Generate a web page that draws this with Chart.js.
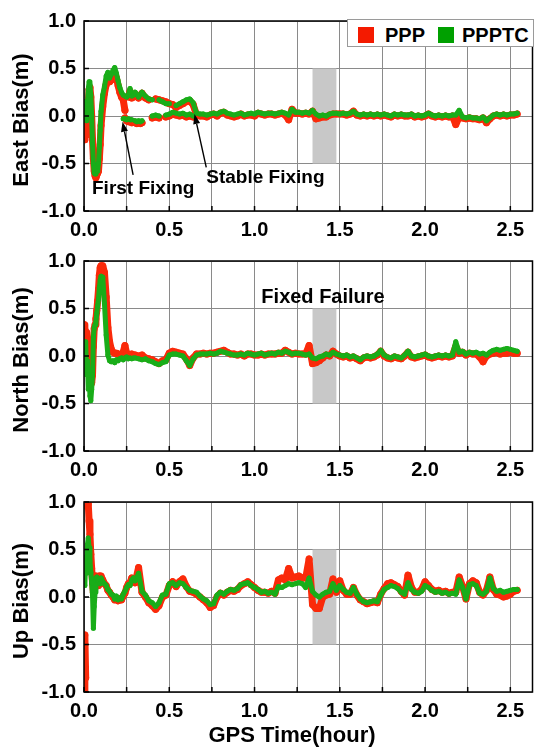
<!DOCTYPE html>
<html>
<head>
<meta charset="utf-8">
<script src="https://cdn.jsdelivr.net/npm/chart.js@4.4.1/dist/chart.umd.min.js"></script>
<style>
  html, body { margin: 0; padding: 0; background: #fff; }
  #wrap { position: relative; width: 536px; height: 748px; font-family: "Liberation Sans", Arial, sans-serif; font-weight: bold; color: #000; }
  #wrap canvas { position: absolute; left: 0; }
  #legend { position: absolute; left: 347px; top: 19px; width: 185px; height: 26px; border: 1.5px solid #9a9a9a; background: #fff; z-index: 2; }
  #legend .sw { position: absolute; top: 7px; width: 16px; height: 16px; }
  #legend .lb { position: absolute; top: 5px; font-size: 20px; line-height: 20px; }
  #xtitle { position: absolute; left: 0; width: 584px; top: 724px; text-align: center; font-size: 22px; line-height: 22px; }
</style>
</head>
<body>
<div id="wrap">
  <canvas id="east" width="536" height="240" style="top:0px"></canvas>
  <canvas id="north" width="536" height="240" style="top:240px"></canvas>
  <canvas id="up" width="536" height="268" style="top:480px"></canvas>
  <div id="legend">
    <span class="sw" style="left:10px;background:#f41a00"></span><span class="lb" style="left:37px">PPP</span>
    <span class="sw" style="left:90px;background:#00a000"></span><span class="lb" style="left:114px">PPPTC</span>
  </div>
  <div id="xtitle">GPS Time(hour)</div>
</div>
<script>
// sample times (hour), shared by all main traces
const hours = [
  0, 0.005, 0.01, 0.015, 0.02, 0.025, 0.03, 0.035, 0.04, 0.045,
  0.05, 0.055, 0.06, 0.065, 0.07, 0.075, 0.08, 0.085, 0.09, 0.095,
  0.10, 0.11, 0.12, 0.13, 0.14, 0.15, 0.16, 0.17, 0.18, 0.19,
  0.20, 0.21, 0.22, 0.23, 0.24, 0.25, 0.26, 0.27, 0.28, 0.29,
  0.30, 0.32, 0.34, 0.36, 0.38, 0.40, 0.42, 0.44, 0.46, 0.48,
  0.50, 0.52, 0.54, 0.56, 0.58, 0.60, 0.62, 0.64, 0.66, 0.68,
  0.70, 0.72, 0.74, 0.76, 0.78, 0.80, 0.82, 0.84, 0.86, 0.88,
  0.90, 0.92, 0.94, 0.96, 0.98, 1.00, 1.02, 1.04, 1.06, 1.08,
  1.10, 1.12, 1.14, 1.16, 1.18, 1.20, 1.22, 1.24, 1.26, 1.28,
  1.30, 1.32, 1.34, 1.36, 1.38, 1.40, 1.42, 1.44, 1.46, 1.48,
  1.50, 1.52, 1.54, 1.56, 1.58, 1.60, 1.62, 1.64, 1.66, 1.68,
  1.70, 1.72, 1.74, 1.76, 1.78, 1.80, 1.82, 1.84, 1.86, 1.88,
  1.90, 1.92, 1.94, 1.96, 1.98, 2.00, 2.02, 2.04, 2.06, 2.08,
  2.10, 2.12, 2.14, 2.16, 2.18, 2.20, 2.22, 2.24, 2.26, 2.28,
  2.30, 2.32, 2.34, 2.36, 2.38, 2.40, 2.42, 2.44, 2.46, 2.48,
  2.50, 2.52, 2.54
];

// East (m); between 0.23 and 0.66 this is the float branch
const eastPPP = [
  -0.2, -0.25, -0.12, -0.2, -0.05, 0.15, 0.28, 0.30, 0.20, 0.0,
  -0.25, -0.45, -0.58, -0.63, -0.65, -0.62, -0.6, -0.58, -0.45, -0.3,
  -0.1, 0.1, 0.24, 0.33, 0.40, 0.36, 0.38, 0.42, 0.44, 0.40,
  0.32, 0.25, 0.20, 0.17, 0.06, null, 0.20, 0.26, 0.19, 0.20,
  0.23, 0.19, 0.24, 0.19, 0.17, null, 0.18, 0.17, 0.16, 0.15,
  0.13, 0.12, 0.09, 0.11, 0.13, 0.15, 0.16, 0.12, 0.01, 0.0,
  0.0, -0.01, 0.01, 0.02, 0.0, 0.03, 0.04, 0.01, 0.0, -0.01,
  0.0, 0.02, 0.0, 0.01, 0.01, 0.0, 0.03, 0.02, 0.01, 0.02,
  0.02, 0.01, 0.02, 0.03, 0.01, -0.04, 0.07, 0.03, 0.03, 0.02,
  0.03, 0.02, 0.05, -0.03, -0.02, -0.01, -0.01, 0.01, 0.02, 0.02,
  0.02, 0.02, 0.01, 0.02, 0.05, 0.01, 0.0, 0.01, 0.0, 0.01,
  0.0, 0.01, 0.0, 0.01, 0.0, -0.01, 0.01, 0.0, 0.01, 0.0,
  0.0, 0.01, -0.01, 0.0, -0.01, 0.0, 0.02, 0.0, -0.01, 0.0,
  -0.01, 0.0, -0.01, 0.0, -0.09, -0.01, -0.02, -0.03, -0.02, -0.03,
  -0.03, -0.04, -0.02, -0.07, -0.03, 0.0, 0.01, 0.0, 0.01, 0.0,
  0.01, 0.01, 0.02
];
const eastPPPTC = [
  0.05, 0.15, 0.10, -0.05, 0.12, 0.28, 0.36, 0.33, 0.22, 0.0,
  -0.3, -0.5, -0.6, -0.61, -0.6, -0.56, -0.58, -0.5, -0.33, -0.15,
  0.05, 0.22, 0.31, 0.42, 0.46, 0.40, 0.44, 0.48, 0.51, 0.45,
  0.37, 0.30, 0.25, 0.22, 0.21, 0.20, 0.22, 0.29, 0.21, 0.22,
  0.25, 0.20, 0.25, 0.21, 0.18, 0.17, null, 0.17, 0.15, 0.13,
  0.13, null, 0.11, 0.13, 0.15, 0.17, 0.18, 0.14, 0.03, 0.02,
  0.02, 0.01, 0.02, 0.03, 0.02, 0.04, 0.05, 0.03, 0.02, 0.01,
  0.02, 0.03, 0.01, 0.02, 0.03, 0.02, 0.04, 0.03, 0.02, 0.03,
  0.03, 0.02, 0.03, 0.04, 0.03, 0.01, 0.07, 0.04, 0.04, 0.03,
  0.04, 0.03, 0.06, 0.02, 0.0, 0.01, 0.0, 0.02, 0.03, 0.03,
  0.02, 0.03, 0.02, 0.03, 0.05, 0.02, 0.01, 0.02, 0.01, 0.02,
  0.01, 0.02, 0.01, 0.02, 0.01, 0.0, 0.02, 0.01, 0.02, 0.01,
  0.01, 0.02, 0.0, 0.01, 0.0, 0.01, 0.03, 0.01, 0.0, 0.01,
  0.0, 0.01, 0.0, 0.01, 0.01, 0.06, -0.01, -0.02, -0.01, -0.02,
  -0.02, -0.03, -0.01, -0.05, -0.02, 0.01, 0.02, 0.01, 0.02, 0.01,
  0.02, 0.02, 0.03
];

// East fixed branch while float and fixed solutions alternate
const fixHours = [
  0.23, 0.24, 0.25, 0.26, 0.27, 0.28, 0.29, 0.30, 0.31, 0.32,
  0.33, 0.34, 0.36, 0.38, 0.40, 0.42, 0.44, 0.46, 0.48, 0.50,
  0.52, 0.54, 0.56, 0.58, 0.60, 0.62, 0.64
];
const eastFixPPP = [
  null, -0.02, -0.05, -0.06, -0.05, -0.07, -0.06, -0.07, -0.08, -0.07,
  -0.08, -0.07, null, null, -0.02, -0.01, -0.02, null, -0.01, 0.0,
  0.02, 0.01, 0.0, 0.01, -0.01, 0.0, -0.01
];
const eastFixPPPTC = [
  -0.03, -0.03, -0.04, -0.03, -0.04, -0.04, null, -0.05, -0.06, -0.05,
  -0.06, -0.05, null, null, 0.0, 0.01, 0.0, null, 0.01, 0.02,
  0.04, 0.03, 0.02, 0.03, 0.01, 0.02, 0.0
];

// North (m)
const northPPP = [
  0.33, 0.28, 0.22, 0.25, 0.10, -0.05, -0.2, -0.27, -0.3, -0.28,
  -0.2, 0.1, 0.29, 0.33, 0.39, 0.48, 0.58, 0.7, 0.85, 0.93,
  0.95, 0.95, 0.88, 0.62, 0.30, 0.15, 0.07, 0.04, 0.03, 0.03,
  0.02, 0.01, 0.02, 0.04, 0.11, 0.03, 0.02, 0.01, 0.02, 0.01,
  0.01, 0.0, 0.01, -0.02, -0.03, -0.04, -0.06, -0.08, -0.05, -0.04,
  0.03, 0.05, 0.04, 0.03, 0.02, -0.03, -0.1, -0.02, 0.02, 0.02,
  0.03, 0.02, 0.03, 0.03, 0.04, 0.05, 0.06, 0.04, 0.02, 0.02,
  0.01, 0.02, 0.0, 0.02, 0.02, 0.01, 0.01, 0.02, 0.01, 0.02,
  0.02, 0.02, 0.03, 0.03, 0.06, 0.04, 0.02, 0.03, 0.02, 0.02,
  0.02, 0.11, -0.08, -0.07, -0.05, -0.02, 0.01, 0.0, 0.05, 0.02,
  0.0, -0.01, 0.0, -0.02, -0.01, -0.03, -0.05, -0.02, -0.01, -0.02,
  -0.01, 0.01, 0.05, 0.0, -0.02, -0.03, -0.01, -0.02, -0.03, 0.0,
  0.04, -0.01, -0.02, -0.01, 0.0, 0.01, -0.01, -0.02, -0.01, 0.0,
  -0.01, 0.0, -0.01, 0.0, 0.1, 0.03, 0.04, 0.01, 0.03, 0.02,
  0.02, -0.01, -0.06, 0.0, 0.02, 0.03, 0.04, 0.02, 0.03, 0.03,
  0.04, 0.03, 0.03
];
const northPPPTC = [
  0.10, -0.15, 0.15, -0.2, -0.05, -0.35, -0.2, -0.42, -0.47, -0.35,
  -0.2, 0.2, 0.3, 0.33, 0.36, 0.45, 0.53, 0.6, 0.72, 0.8,
  0.84, 0.83, 0.55, 0.22, 0.01, -0.05, -0.06, -0.05, -0.07, -0.04,
  -0.05, -0.03, -0.02, -0.04, -0.02, -0.01, -0.03, -0.02, -0.03, -0.02,
  -0.02, -0.03, -0.04, -0.03, -0.05, -0.06, -0.08, -0.09, -0.07, -0.06,
  0.01, 0.02, 0.02, 0.01, 0.0, -0.05, -0.1, -0.03, 0.01, 0.02,
  0.02, 0.02, 0.03, 0.02, 0.03, 0.05, 0.04, 0.03, 0.02, 0.01,
  0.01, 0.02, 0.01, 0.03, 0.02, 0.01, 0.02, 0.03, 0.01, 0.02,
  0.03, 0.02, 0.04, 0.03, 0.05, 0.04, 0.02, 0.03, 0.03, 0.02,
  0.01, 0.02, -0.02, -0.03, -0.01, 0.0, 0.02, 0.01, 0.04, 0.02,
  0.01, 0.0, 0.01, -0.01, 0.0, -0.02, -0.04, -0.01, 0.0, -0.01,
  0.0, 0.02, 0.06, 0.01, -0.01, -0.02, 0.0, -0.01, -0.02, 0.01,
  0.05, 0.0, -0.01, 0.0, 0.01, 0.02, 0.0, -0.01, 0.0, 0.01,
  0.0, 0.01, 0.0, 0.01, 0.15, 0.04, 0.05, 0.02, 0.04, 0.03,
  0.04, 0.02, 0.03, 0.01, 0.04, 0.06, 0.07, 0.06, 0.07, 0.08,
  0.07, 0.06, 0.05
];

// Up (m)
const upPPP = [
  -1.0, -0.4, -0.85, null, 0.95, 0.98, 0.8, 0.66, 0.45, 0.3,
  0.15, 0.05, 0.12, 0.19, 0.22, 0.2, 0.15, 0.12, 0.22, 0.2,
  0.22, 0.18, 0.14, 0.12, 0.07, 0.05, 0.02, 0.0, -0.03, -0.01,
  -0.04, -0.02, -0.03, 0.01, 0.04, 0.1, 0.14, 0.15, 0.2, 0.18,
  0.15, 0.31, 0.05, 0.0, -0.06, -0.09, -0.13, -0.09, 0.0, 0.02,
  0.12, 0.16, 0.11, 0.16, 0.19, 0.11, 0.06, 0.05, 0.03, 0.0,
  -0.03, -0.06, -0.11, -0.09, 0.0, 0.04, 0.02, 0.05, 0.07, 0.06,
  0.08, 0.12, 0.14, 0.16, 0.13, 0.1, 0.07, 0.05, 0.05, 0.04,
  0.06, 0.04, 0.18, 0.2, 0.18, 0.3, 0.2, 0.21, 0.22, 0.2,
  0.2, 0.4, -0.08, -0.12, -0.12, 0.0, 0.02, 0.03, 0.19, 0.05,
  0.17, 0.07, 0.03, 0.03, 0.1, 0.02, -0.03, -0.05, -0.07, -0.06,
  -0.05, -0.06, 0.03, 0.09, 0.14, 0.15, 0.13, 0.11, 0.06, 0.02,
  0.23, 0.1, 0.05, 0.05, 0.08, 0.16, 0.12, 0.08, 0.06, 0.07,
  0.05, 0.06, 0.04, 0.05, 0.05, 0.21, 0.11, -0.02, 0.14, 0.17,
  0.15, 0.05, 0.02, 0.07, 0.21, 0.08, 0.03, 0.02, 0.0, 0.01,
  0.03, 0.06, 0.07
];
const upPPPTC = [
  0.30, 0.12, 0.42, 0.25, 0.55, 0.62, 0.52, 0.38, 0.26, 0.15,
  0.02, -0.33, -0.1, 0.05, 0.2, 0.21, 0.18, 0.15, 0.19, 0.14,
  0.2, 0.16, 0.14, 0.12, 0.08, 0.06, 0.03, 0.02, -0.02, 0.01,
  -0.03, -0.01, -0.02, 0.03, 0.06, 0.1, 0.13, 0.12, 0.18, 0.2,
  0.17, 0.25, 0.06, 0.02, -0.04, -0.06, -0.1, -0.06, 0.02, 0.03,
  0.14, 0.15, 0.12, 0.15, 0.14, 0.1, 0.07, 0.06, 0.05, 0.01,
  -0.02, -0.04, -0.08, -0.07, 0.02, 0.05, 0.03, 0.06, 0.08, 0.07,
  0.09, 0.13, 0.14, 0.15, 0.12, 0.1, 0.08, 0.05, 0.06, 0.04,
  0.05, 0.03, 0.11, 0.1, 0.12, 0.14, 0.13, 0.14, 0.15, 0.14,
  0.1, 0.2, 0.06, 0.02, 0.0, 0.03, 0.05, 0.06, 0.14, 0.07,
  0.12, 0.08, 0.05, 0.04, 0.1, 0.03, -0.02, -0.05, -0.06, -0.05,
  -0.04, -0.05, 0.02, 0.08, 0.1, 0.12, 0.11, 0.09, 0.05, 0.03,
  0.15, 0.08, 0.05, 0.04, 0.06, 0.12, 0.1, 0.07, 0.05, 0.06,
  0.04, 0.05, 0.03, 0.04, 0.03, 0.18, 0.1, -0.02, 0.13, 0.14,
  0.12, 0.04, 0.03, 0.06, 0.2, 0.09, 0.06, 0.07, 0.05, 0.06,
  0.07, 0.08, 0.08
];

// fixed-failure window (hour) and annotations
const failureWindow = [1.34, 1.48];
const eastNotes = [
  { text: 'First Fixing', x: 0.047, y: -0.82, size: 19 },
  { text: 'Stable Fixing', x: 0.717, y: -0.71, size: 19 }
];
const eastArrows = [
  { from: [0.288, -0.62], to: [0.226, -0.06] },
  { from: [0.717, -0.54], to: [0.648, 0.02] }
];
const northNotes = [{ text: 'Fixed Failure', x: 1.04, y: 0.56, size: 20 }];

const RED = '#fa2a0a';
const GREEN = '#19ad19';
const FONT = '"Liberation Sans", Arial, sans-serif';

Chart.defaults.font.family = FONT;
Chart.defaults.font.weight = 'bold';
Chart.defaults.color = '#000';

function pts(xs, ys) {
  return xs.map((x, i) => ({ x: x, y: ys[i] }));
}

function line(xs, ys, color, width, order) {
  return {
    data: pts(xs, ys),
    borderColor: color,
    backgroundColor: color,
    borderWidth: width,
    pointRadius: width / 2,
    pointBorderWidth: 0,
    pointHoverRadius: 0,
    borderJoinStyle: 'round',
    borderCapStyle: 'round',
    tension: 0,
    spanGaps: false,
    clip: 0,
    order: order
  };
}

// frame, inward ticks, shaded window, notes and y title
const decor = {
  id: 'decor',
  beforeDatasetsDraw(chart, args, o) {
    const { ctx } = chart;
    const x = chart.scales.x, y = chart.scales.y;
    const l = x.getPixelForValue(failureWindow[0]);
    const r = x.getPixelForValue(failureWindow[1]);
    const t = y.getPixelForValue(0.5), b = y.getPixelForValue(-0.5);
    ctx.save();
    ctx.fillStyle = '#c8c8c8';
    ctx.fillRect(l, t, r - l, b - t);
    ctx.restore();
  },
  afterDatasetsDraw(chart, args, o) {
    const { ctx, chartArea: a } = chart;
    const x = chart.scales.x, y = chart.scales.y;
    ctx.save();
    ctx.strokeStyle = '#000';
    ctx.lineWidth = 1.5;
    ctx.strokeRect(a.left, a.top, a.right - a.left, a.bottom - a.top);
    ctx.beginPath();
    x.ticks.forEach(tk => {
      const px = x.getPixelForValue(tk.value);
      ctx.moveTo(px, a.bottom); ctx.lineTo(px, a.bottom - 5);
    });
    y.ticks.forEach(tk => {
      const py = y.getPixelForValue(tk.value);
      ctx.moveTo(a.left, py); ctx.lineTo(a.left + 5, py);
    });
    ctx.stroke();

    ctx.fillStyle = '#000';
    ctx.textBaseline = 'alphabetic';
    ctx.textAlign = 'left';
    (o.notes || []).forEach(n => {
      ctx.font = 'bold ' + n.size + 'px ' + FONT;
      ctx.fillText(n.text, x.getPixelForValue(n.x), y.getPixelForValue(n.y));
    });
    ctx.lineWidth = 1.4;
    (o.arrows || []).forEach(ar => {
      const x0 = x.getPixelForValue(ar.from[0]), y0 = y.getPixelForValue(ar.from[1]);
      const x1 = x.getPixelForValue(ar.to[0]), y1 = y.getPixelForValue(ar.to[1]);
      const ang = Math.atan2(y1 - y0, x1 - x0);
      const len = 10, half = 3.5;
      const bx = x1 - len * Math.cos(ang), by = y1 - len * Math.sin(ang);
      ctx.beginPath();
      ctx.moveTo(x0, y0); ctx.lineTo(bx, by);
      ctx.stroke();
      ctx.beginPath();
      ctx.moveTo(x1, y1);
      ctx.lineTo(bx + half * Math.sin(ang), by - half * Math.cos(ang));
      ctx.lineTo(bx - half * Math.sin(ang), by + half * Math.cos(ang));
      ctx.closePath();
      ctx.fill();
    });

    ctx.translate(22, (a.top + a.bottom) / 2 + 4);
    ctx.rotate(-Math.PI / 2);
    ctx.font = 'bold 22px ' + FONT;
    ctx.textAlign = 'center';
    ctx.textBaseline = 'middle';
    ctx.fillText(o.title, 0, 0);
    ctx.restore();
  }
};

function panel(id, cfg) {
  const datasets = [
    line(hours, cfg.ppp, RED, 7, 1),
    line(hours, cfg.ppptc, GREEN, 5, 0)
  ];
  (cfg.extra || []).forEach(d => datasets.push(d));
  return new Chart(document.getElementById(id), {
    type: 'line',
    data: { datasets: datasets },
    options: {
      responsive: false,
      animation: false,
      events: [],
      layout: { padding: { top: cfg.padTop, right: 2, left: 0, bottom: 0 } },
      plugins: {
        legend: { display: false },
        tooltip: { enabled: false },
        decor: { title: cfg.title, notes: cfg.notes, arrows: cfg.arrows }
      },
      scales: {
        x: {
          type: 'linear',
          min: 0,
          max: 2.63,
          afterFit: s => { s.height = cfg.xHeight; },
          grid: { color: '#8a8a8a', lineWidth: 1, drawTicks: false },
          border: { display: false },
          ticks: {
            stepSize: 0.25,
            includeBounds: false,
            autoSkip: false,
            maxRotation: 0,
            padding: 7,
            font: { size: 20, weight: 'bold' },
            color: '#000',
            callback: v => {
              const q = Math.round(v * 4);
              return q % 2 === 0 ? (q / 4).toFixed(1) : '';
            }
          }
        },
        y: {
          type: 'linear',
          min: -1,
          max: 1,
          afterFit: s => { s.width = 84; },
          grid: { color: '#8a8a8a', lineWidth: 1, drawTicks: false },
          border: { display: false },
          ticks: {
            stepSize: 0.5,
            padding: 8,
            font: { size: 20, weight: 'bold' },
            color: '#000',
            callback: v => v.toFixed(1)
          }
        }
      }
    },
    plugins: [decor]
  });
}

panel('east', {
  title: 'East Bias(m)', ppp: eastPPP, ppptc: eastPPPTC, padTop: 21, xHeight: 29,
  notes: eastNotes, arrows: eastArrows,
  extra: [line(fixHours, eastFixPPP, RED, 7, 1), line(fixHours, eastFixPPPTC, GREEN, 5, 0)]
});
panel('north', {
  title: 'North Bias(m)', ppp: northPPP, ppptc: northPPPTC, padTop: 21, xHeight: 29,
  notes: northNotes, arrows: []
});
panel('up', {
  title: 'Up Bias(m)', ppp: upPPP, ppptc: upPPPTC, padTop: 22, xHeight: 56,
  notes: [], arrows: []
});
</script>
</body>
</html>
